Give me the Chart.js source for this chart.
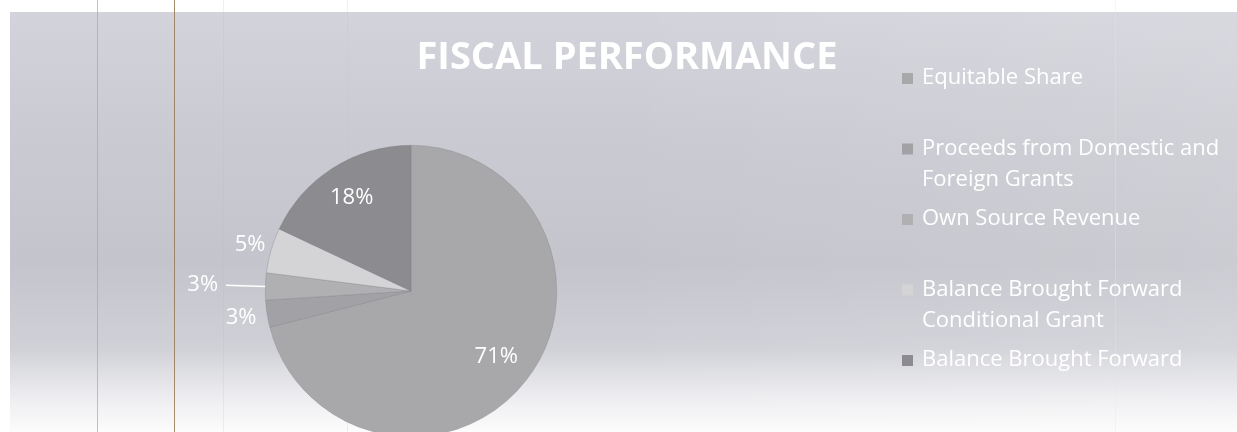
<!DOCTYPE html>
<html>
<head>
<meta charset="utf-8">
<script src="https://cdn.jsdelivr.net/npm/chart.js@4.4.1/dist/chart.umd.min.js"></script>
<style>
  html, body { margin: 0; padding: 0; background: #ffffff; overflow: hidden; }
  #wrap { width: 1237px; height: 432px; overflow: hidden; }
</style>
</head>
<body>
<div id="wrap"><canvas id="chart" width="1237" height="450"></canvas></div>
<script>
const labels = [
  'Equitable Share',
  'Proceeds from Domestic and Foreign Grants',
  'Own Source Revenue',
  'Balance Brought Forward Conditional Grant',
  'Balance Brought Forward'
];
const shares = [71, 3, 3, 5, 18];
const sliceColors = ['#a8a8ab', '#a2a2a6', '#b0b0b3', '#d4d4d7', '#8b8b90'];
const chartTitle = 'FISCAL PERFORMANCE';

// label distance from centre, as a fraction of the radius (Excel "best fit")
const labelRadius = [0.74, 1.18, 1.43, 1.15, 0.76];

const FONT = '"Open Sans", "DejaVu Sans", sans-serif';

// scanned paper look behind the chart
const backdrop = {
  id: 'backdrop',
  beforeDraw(chart) {
    const ctx = chart.ctx;
    ctx.save();
    ctx.fillStyle = '#ffffff';
    ctx.fillRect(0, 0, chart.width, chart.height);
    const g = ctx.createLinearGradient(0, 12, 0, 432);
    g.addColorStop(0, '#d3d4db');
    g.addColorStop(0.3, '#cacbd2');
    g.addColorStop(0.6, '#c4c5cc');
    g.addColorStop(0.8, '#d0d1d7');
    g.addColorStop(0.92, '#eeeef1');
    g.addColorStop(1, '#fcfcfc');
    ctx.fillStyle = g;
    ctx.fillRect(10, 12, chart.width - 10, 420);
    // right side lighter towards the top
    const h = ctx.createLinearGradient(600, 0, 1237, 0);
    h.addColorStop(0, 'rgba(255,255,255,0)');
    h.addColorStop(1, 'rgba(255,255,255,0.12)');
    ctx.fillStyle = h;
    ctx.fillRect(600, 12, 637, 420);
    // stray scanner lines
    const lines = [[97, 'rgba(140,175,210,0.7)'], [174, 'rgba(150,120,80,0.85)'],
                   [223, 'rgba(210,170,170,0.2)'], [347, 'rgba(200,190,140,0.2)'],
                   [1115, 'rgba(235,230,215,0.35)']];
    lines.forEach(([x, c]) => {
      ctx.strokeStyle = c;
      ctx.lineWidth = 1;
      ctx.beginPath();
      ctx.moveTo(x + 0.5, 0);
      ctx.lineTo(x + 0.5, 432);
      ctx.stroke();
    });
    ctx.restore();
  }
};

// percentage labels on / beside the slices
const sliceLabels = {
  id: 'sliceLabels',
  afterDatasetsDraw(chart) {
    const ctx = chart.ctx;
    const meta = chart.getDatasetMeta(0);
    const data = chart.data.datasets[0].data;
    const total = data.reduce((a, b) => a + b, 0);
    ctx.save();
    ctx.font = '22px ' + FONT;
    ctx.fillStyle = '#ffffff';
    ctx.textAlign = 'center';
    ctx.textBaseline = 'middle';
    meta.data.forEach((arc, i) => {
      const p = arc.getProps(['x', 'y', 'startAngle', 'endAngle', 'outerRadius'], true);
      const mid = (p.startAngle + p.endAngle) / 2;
      const r = p.outerRadius * labelRadius[i];
      const lx = p.x + Math.cos(mid) * r;
      const ly = p.y + Math.sin(mid) * r;
      if (labelRadius[i] > 1.3) {
        ctx.strokeStyle = '#ffffff';
        ctx.lineWidth = 1.5;
        ctx.beginPath();
        ctx.moveTo(p.x + Math.cos(mid) * p.outerRadius, p.y + Math.sin(mid) * p.outerRadius);
        ctx.lineTo(p.x + Math.cos(mid) * p.outerRadius * 1.27, p.y + Math.sin(mid) * p.outerRadius * 1.27);
        ctx.stroke();
      }
      ctx.fillText(Math.round(data[i] / total * 100) + '%', lx, ly);
    });
    ctx.restore();
  }
};

// title and wrapped legend on the right
const sideText = {
  id: 'sideText',
  afterDraw(chart) {
    const ctx = chart.ctx;
    ctx.save();
    ctx.fillStyle = '#ffffff';
    ctx.textBaseline = 'middle';
    ctx.textAlign = 'center';
    ctx.font = 'bold 38px ' + FONT;
    ctx.fillText(chartTitle, 627, 58);

    ctx.textAlign = 'left';
    ctx.font = '22px ' + FONT;
    const maxW = 315;
    chart.data.labels.forEach((text, i) => {
      const top = 78 + i * 70.5;
      ctx.fillStyle = chart.data.datasets[0].backgroundColor[i];
      ctx.fillRect(902, top - 5, 11, 11);
      ctx.fillStyle = '#ffffff';
      const words = text.split(' ');
      let line = '';
      let y = top;
      words.forEach(w => {
        const test = line ? line + ' ' + w : w;
        if (ctx.measureText(test).width > maxW && line) {
          ctx.fillText(line, 922, y);
          line = w;
          y += 31;
        } else {
          line = test;
        }
      });
      ctx.fillText(line, 922, y);
    });
    ctx.restore();
  }
};

new Chart(document.getElementById('chart'), {
  type: 'pie',
  data: {
    labels: labels,
    datasets: [{
      data: shares,
      backgroundColor: sliceColors,
      borderColor: 'rgba(120,120,126,0.6)',
      borderWidth: 0.5
    }]
  },
  options: {
    responsive: false,
    animation: false,
    layout: { padding: { left: 265, right: 680, top: 145, bottom: 13 } },
    plugins: {
      legend: { display: false },
      title: { display: false },
      tooltip: { enabled: false }
    }
  },
  plugins: [backdrop, sliceLabels, sideText]
});
</script>
</body>
</html>
